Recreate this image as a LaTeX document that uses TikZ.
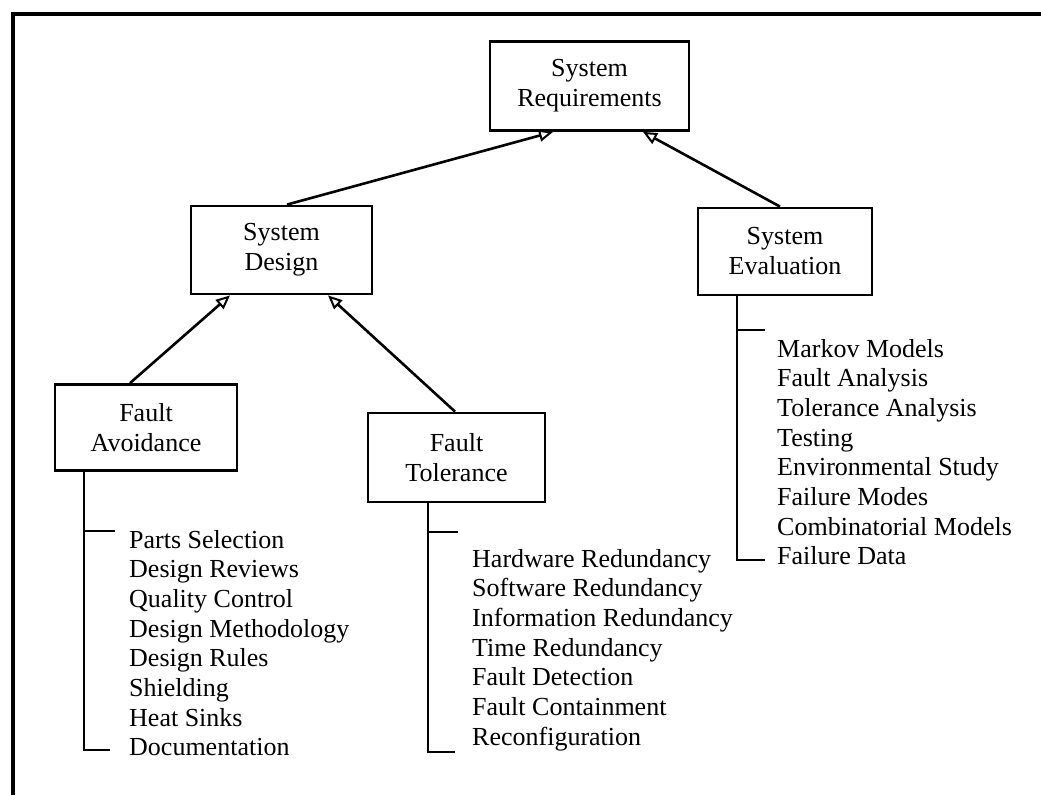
\documentclass[tikz,border=0pt]{standalone}
\usepackage{fontspec}
\setmainfont{Liberation Serif}
\usetikzlibrary{arrows.meta,calc}
\begin{document}
\begin{tikzpicture}[x=1pt,y=-1pt,
  box/.style={draw, line width=2.8pt, inner sep=0pt, align=center,
    font=\fontsize{26}{30}\selectfont},
  link/.style={line width=2.6pt,
    -{Triangle[open, length=14pt, width=12pt, line width=2pt]}},
  bracket/.style={line width=2.8pt},
  item/.style={anchor=base west, inner sep=0pt, font=\fontsize{26}{30}\selectfont},
]
\useasboundingbox (0,0) rectangle (1041,795);
% page frame (top and left edges)
\draw[line width=3.6pt] (13,795) -- (13,14) -- (1041,14);

% boxes
\node[box, minimum width=199pt, minimum height=89pt] (sr) at (589.5,86) {System\\Requirements};
\node[box, minimum width=181pt, minimum height=88pt] (sd) at (281.5,250) {System\\Design};
\node[box, minimum width=174pt, minimum height=87pt] (se) at (785,251.5) {System\\Evaluation};
\node[box, minimum width=182pt, minimum height=86pt] (fa) at (146,427.5) {Fault\\Avoidance};
\node[box, minimum width=177pt, minimum height=89pt] (ft) at (456.5,457.5) {Fault\\Tolerance};

% hierarchy links
\draw[link] ([xshift=5.5pt]sd.north) -- ([xshift=-36.5pt]sr.south);
\draw[link] ([xshift=-5pt]se.north) -- ([xshift=53.5pt]sr.south);
\draw[link] ([xshift=-16pt]fa.north) -- ([xshift=-51.5pt]sd.south);
\draw[link] ([xshift=-1.5pt]ft.north) -- ([xshift=46.5pt]sd.south);

% Fault Avoidance techniques
\coordinate (fa-tick) at (84,531);
\coordinate (fa-end) at (84,750);
\draw[bracket] (fa.south -| fa-tick) -- (fa-end) -- ++(26,0);
\draw[bracket] (fa-tick) -- ++(31,0);
\foreach \t [count=\i from 0] in {Parts Selection, Design Reviews, Quality Control,
    Design Methodology, Design Rules, Shielding, Heat Sinks, Documentation}
  \node[item] (fa-\i) at (129,{548+29.7*\i}) {\t};

% Fault Tolerance techniques
\coordinate (ft-tick) at (428,532);
\coordinate (ft-end) at (428,752);
\draw[bracket] (ft.south -| ft-tick) -- (ft-end) -- ++(27,0);
\draw[bracket] (ft-tick) -- ++(30,0);
\foreach \t [count=\i from 0] in {Hardware Redundancy, Software Redundancy,
    Information Redundancy, Time Redundancy, Fault Detection, Fault Containment,
    Reconfiguration}
  \node[item] (ft-\i) at (472,{567+29.7*\i}) {\t};

% System Evaluation methods
\coordinate (se-tick) at (737,330);
\coordinate (se-end) at (737,560);
\draw[bracket] (se.south -| se-tick) -- (se-end) -- ++(28,0);
\draw[bracket] (se-tick) -- ++(28,0);
\foreach \t [count=\i from 0] in {Markov Models, Fault Analysis, Tolerance Analysis,
    Testing, Environmental Study, Failure Modes, Combinatorial Models, Failure Data}
  \node[item] (se-\i) at (777,{357+29.7*\i}) {\t};
\end{tikzpicture}
\end{document}
